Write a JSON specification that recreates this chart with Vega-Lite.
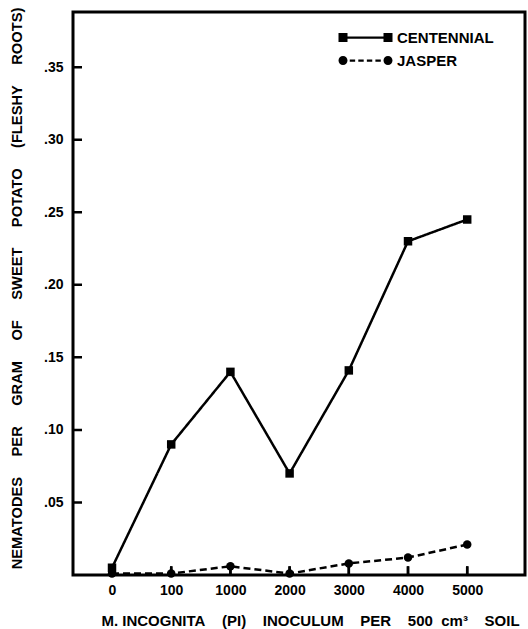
{
  "$schema": "https://vega.github.io/schema/vega-lite/v6.json",
  "width": 452,
  "height": 563,
  "autosize": {"type": "none"},
  "padding": {"left": 73, "top": 12, "right": 3, "bottom": 54},
  "background": "white",
  "config": {
    "view": {"stroke": "black", "strokeWidth": 3},
    "font": "Liberation Sans"
  },
  "data": {
    "values": [
      {"inoculum": "0", "cultivar": "CENTENNIAL", "value": 0.005},
      {"inoculum": "100", "cultivar": "CENTENNIAL", "value": 0.09},
      {"inoculum": "1000", "cultivar": "CENTENNIAL", "value": 0.14},
      {"inoculum": "2000", "cultivar": "CENTENNIAL", "value": 0.07},
      {"inoculum": "3000", "cultivar": "CENTENNIAL", "value": 0.141},
      {"inoculum": "4000", "cultivar": "CENTENNIAL", "value": 0.23},
      {"inoculum": "5000", "cultivar": "CENTENNIAL", "value": 0.245},
      {"inoculum": "0", "cultivar": "JASPER", "value": 0.001},
      {"inoculum": "100", "cultivar": "JASPER", "value": 0.001},
      {"inoculum": "1000", "cultivar": "JASPER", "value": 0.006},
      {"inoculum": "2000", "cultivar": "JASPER", "value": 0.001},
      {"inoculum": "3000", "cultivar": "JASPER", "value": 0.008},
      {"inoculum": "4000", "cultivar": "JASPER", "value": 0.012},
      {"inoculum": "5000", "cultivar": "JASPER", "value": 0.021}
    ]
  },
  "encoding": {
    "x": {
      "field": "inoculum",
      "type": "ordinal",
      "sort": null,
      "scale": {"type": "point", "domain": ["0", "100", "1000", "2000", "3000", "4000", "5000"], "padding": 0.8176, "align": 0.403},
      "axis": {
        "zindex": 1,
        "title": "M.\u00a0INCOGNITA\u00a0\u00a0\u00a0\u00a0(PI)\u00a0\u00a0\u00a0\u00a0INOCULUM\u00a0\u00a0\u00a0\u00a0PER\u00a0\u00a0\u00a0\u00a0500\u00a0\u00a0cm³\u00a0\u00a0\u00a0\u00a0SOIL",
        "titleFont": "Liberation Sans",
        "titleFontWeight": "bold",
        "titleFontSize": 15,
        "titleColor": "black",
        "titleX": 237,
        "titleY": 45,
        "titleAlign": "center",
        "titleBaseline": "middle",
        "labelAngle": 0,
        "labelFont": "Liberation Sans",
        "labelFontWeight": "bold",
        "labelFontSize": 14,
        "labelColor": "black",
        "labelPadding": 8,
        "domain": false,
        "ticks": false,
        "grid": false
      }
    },
    "y": {
      "field": "value",
      "type": "quantitative",
      "scale": {"domain": [0, 0.388], "nice": false, "zero": false},
      "axis": {
        "zindex": 1,
        "title": "NEMATODES\u00a0\u00a0\u00a0\u00a0\u00a0PER\u00a0\u00a0\u00a0\u00a0\u00a0GRAM\u00a0\u00a0\u00a0\u00a0\u00a0OF\u00a0\u00a0\u00a0\u00a0\u00a0SWEET\u00a0\u00a0\u00a0\u00a0\u00a0POTATO\u00a0\u00a0\u00a0\u00a0\u00a0(FLESHY\u00a0\u00a0\u00a0\u00a0\u00a0ROOTS)",
        "titleFont": "Liberation Sans",
        "titleFontWeight": "bold",
        "titleFontSize": 14.7,
        "titleColor": "black",
        "titleAngle": -90,
        "titleX": -56,
        "titleY": 276,
        "titleAlign": "center",
        "titleBaseline": "middle",
        "values": [0.05, 0.1, 0.15, 0.2, 0.25, 0.3, 0.35],
        "labelExpr": "substring(format(datum.value, '.2f'), 1)",
        "labelFont": "Liberation Sans",
        "labelFontWeight": "bold",
        "labelFontSize": 14,
        "labelColor": "black",
        "labelPadding": 10,
        "domain": false,
        "ticks": false,
        "grid": false
      }
    }
  },
  "layer": [
    {
      "data": {"values": [{"tick": 0.05}, {"tick": 0.1}, {"tick": 0.15}, {"tick": 0.2}, {"tick": 0.25}, {"tick": 0.3}, {"tick": 0.35}]},
      "mark": {"type": "rule", "color": "black", "strokeWidth": 2.5, "strokeDash": [1, 442, 9, 2000]},
      "encoding": {
        "x": null,
        "y": {"field": "tick", "type": "quantitative"}
      }
    },
    {
      "mark": {"type": "rule", "color": "black", "strokeWidth": 2.5},
      "encoding": {
        "y": {"datum": 0},
        "y2": {"datum": 0.006}
      }
    },
    {
      "mark": {"type": "line", "color": "black", "strokeWidth": 2.5},
      "encoding": {
        "detail": {"field": "cultivar", "type": "nominal"},
        "strokeDash": {
          "condition": {"test": "datum.cultivar === 'JASPER'", "value": [7, 4]},
          "value": [1, 0]
        }
      }
    },
    {
      "mark": {"type": "point", "filled": true, "color": "black", "opacity": 1, "size": 72},
      "encoding": {
        "shape": {
          "field": "cultivar",
          "type": "nominal",
          "scale": {"domain": ["CENTENNIAL", "JASPER"], "range": ["square", "circle"]},
          "legend": null
        }
      }
    },
    {
      "transform": [{"filter": "false"}],
      "mark": {"type": "point", "filled": true, "color": "black", "opacity": 1, "size": 81},
      "encoding": {
        "shape": {
          "field": "cultivar",
          "type": "nominal",
          "scale": {
            "domain": ["CENTENNIAL", "JASPER"],
            "range": [
              "M-6,-1H-4V1H-6ZM-4,-0.25H4V0.25H-4ZM4,-1H6V1H4Z",
              "M-4,0A1,1,0,1,1,-6,0A1,1,0,1,1,-4,0ZM-3.5,-0.25H-2.3V0.25H-3.5ZM-1.6,-0.25H-0.4V0.25H-1.6ZM0.3,-0.25H1.5V0.25H0.3ZM2.2,-0.25H3.4V0.25H2.2ZM6,0A1,1,0,1,1,4,0A1,1,0,1,1,6,0Z"
            ]
          },
          "legend": {
            "title": null,
            "orient": "none",
            "legendX": 285,
            "legendY": 18,
            "padding": 0,
            "symbolSize": 81,
            "symbolOpacity": 1,
            "labelFont": "Liberation Sans",
            "labelFontWeight": "bold",
            "labelFontSize": 15,
            "labelColor": "black",
            "labelOffset": 24,
            "rowPadding": 7
          }
        }
      }
    }
  ],
  "resolve": {"scale": {"shape": "independent"}}
}
